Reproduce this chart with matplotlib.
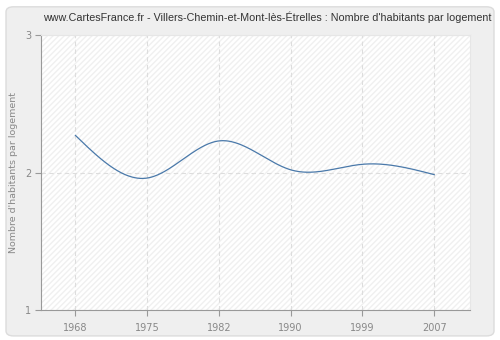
import numpy as np
import matplotlib
matplotlib.use("Agg")
import matplotlib.pyplot as plt
from matplotlib.patches import FancyBboxPatch, Rectangle

years = ["1968", "1975", "1982", "1990", "1999", "2007"]
values = [2.27, 1.96, 2.23, 2.02, 2.06, 1.985]
title = "www.CartesFrance.fr - Villers-Chemin-et-Mont-lès-Étrelles : Nombre d'habitants par logement"
ylabel = "Nombre d'habitants par logement"

plt.rcParams["font.family"] = ["DejaVu Sans"]


def natural_spline(x, y, xs):
    x = np.asarray(x, float)
    y = np.asarray(y, float)
    n = len(x)
    h = np.diff(x)
    A = np.zeros((n, n))
    b = np.zeros(n)
    A[0, 0] = A[-1, -1] = 1
    for i in range(1, n - 1):
        A[i, i - 1] = h[i - 1]
        A[i, i] = 2 * (h[i - 1] + h[i])
        A[i, i + 1] = h[i]
        b[i] = 3 * ((y[i + 1] - y[i]) / h[i] - (y[i] - y[i - 1]) / h[i - 1])
    c = np.linalg.solve(A, b)
    out = np.empty_like(xs)
    for k, t in enumerate(xs):
        i = min(max(np.searchsorted(x, t) - 1, 0), n - 2)
        bi = (y[i + 1] - y[i]) / h[i] - h[i] * (2 * c[i] + c[i + 1]) / 3
        di = (c[i + 1] - c[i]) / (3 * h[i])
        dt = t - x[i]
        out[k] = y[i] + bi * dt + c[i] * dt ** 2 + di * dt ** 3
    return out


fig = plt.figure(figsize=(5, 3.4), dpi=100)
fig.patch.set_facecolor("white")
fig.patches.append(FancyBboxPatch((0.012, 0.012), 0.976, 0.968,
                                  boxstyle="round,pad=0,rounding_size=0.015",
                                  transform=fig.transFigure, facecolor="#efefef",
                                  edgecolor="#dcdcdc", linewidth=1, zorder=-10))

ax = fig.add_axes([0.082, 0.088, 0.858, 0.809])
ax.set_facecolor("white")

pos = np.arange(len(years))
xs = np.linspace(pos[0], pos[-1], 400)
ys = natural_spline(pos, values, xs)

ax.set_xlim(-0.48, 5.5)
ax.set_ylim(1, 3)

# hatched background
ax.add_patch(Rectangle((-0.48, 1), 5.98, 2, facecolor="none", edgecolor="#f0f0f0",
                       hatch="//////", linewidth=0, zorder=0))

ax.plot(xs, ys, color="#4a79aa", linewidth=0.9, zorder=3)

ax.set_xticks(pos)
ax.set_xticklabels(years)
ax.set_yticks([1, 2, 3])
ax.grid(True, color="#dddddd", linestyle=(0, (4, 3)), linewidth=0.8, zorder=1)
ax.set_axisbelow(True)

ax.spines["top"].set_color("#e6e6e6")
ax.spines["right"].set_color("#e6e6e6")
for s in ["left", "bottom"]:
    ax.spines[s].set_color("#999999")
ax.tick_params(colors="#999999", labelcolor="#888888", labelsize=7, length=4, width=0.8)
ax.tick_params(axis="x", pad=5)
ax.tick_params(axis="y", pad=3)

ax.set_ylabel(ylabel, color="#888888", fontsize=6.8, labelpad=5)

t = fig.text(0.534, 0.95, title, ha="center", va="center", fontsize=7.5,
             color="#333333", family=["Liberation Sans", "DejaVu Sans"])
# shrink title to fit its slot
fig.canvas.draw()
w = t.get_window_extent().width
t.set_fontsize(7.5 * 447.0 / w)

fig.savefig("out.png", dpi=100, facecolor=fig.get_facecolor())
